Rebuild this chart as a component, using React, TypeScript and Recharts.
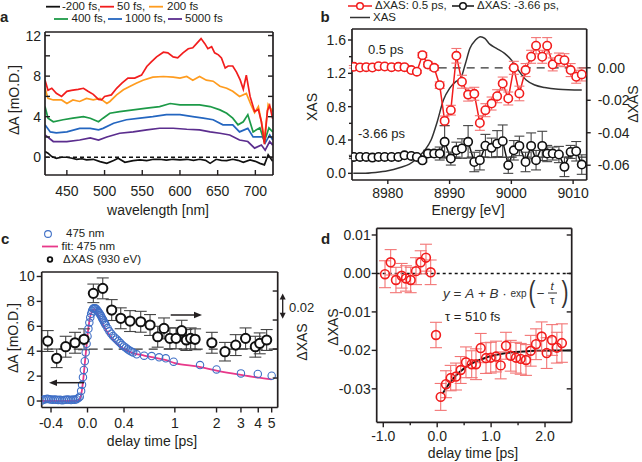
import React from 'react';
import { ComposedChart, Line, Scatter, XAxis, YAxis, ReferenceLine, ErrorBar } from 'recharts';

const FONT = '"Liberation Sans", Arial, Helvetica, sans-serif';
const INK = '#231f20';

// ---------------- panel a : transient absorption spectra ----------------
const A_M200 = [[421,0.56],[425,0.4],[430,0.07],[436,-0.1],[443,0.0],[450,0.0],[457,-0.1],[463,-0.2],[470,-0.15],[476,-0.26],[485,-0.2],[494,-0.43],[503,-0.6],[512,-0.33],[518,-0.1],[527,-0.5],[538,-0.33],[547,-0.25],[556,-0.33],[565,-0.2],[573,-0.2],[582,-0.28],[591,-0.2],[600,-0.25],[609,-0.2],[618,-0.3],[626,-0.2],[634,-0.3],[640,-0.6],[648,-0.2],[655,-0.3],[662,-0.33],[670,-0.2],[677,-0.3],[684,-0.5],[693,-0.26],[700,-0.4],[706,-0.6],[712,-0.75],[717,0.25],[723,-0.4]];
const A_50 = [[421,7.6],[425,6.6],[430,6.8],[436,6.3],[443,6.0],[450,6.5],[456,6.6],[465,6.7],[472,6.8],[478,6.5],[485,6.2],[492,5.7],[496,5.65],[500,6.0],[509,6.15],[516,6.8],[523,7.3],[531,7.8],[540,7.8],[549,8.1],[556,8.95],[562,9.4],[569,9.9],[578,10.36],[584,10.3],[591,9.9],[597,9.8],[604,10.3],[611,10.7],[617,10.8],[622,11.2],[628,11.7],[633,11.2],[637,10.7],[642,10.9],[646,10.3],[651,10.1],[655,9.8],[660,8.8],[664,9.0],[670,9.0],[675,8.4],[680,7.6],[684,6.7],[688,8.1],[693,6.0],[699,4.5],[704,4.7],[708,3.5],[712,1.3],[716,4.6],[719,5.1],[723,3.8]];
const A_200 = [[421,6.8],[425,5.8],[432,5.65],[443,5.65],[450,5.3],[458,5.65],[467,5.5],[476,5.8],[485,5.65],[494,5.8],[503,5.3],[507,5.5],[516,6.15],[525,6.65],[534,7.0],[542,7.3],[551,7.6],[564,7.9],[578,7.96],[591,7.9],[600,7.8],[609,7.96],[617,7.6],[626,7.96],[635,7.6],[644,7.5],[653,7.0],[662,6.8],[670,6.5],[679,6.0],[688,6.3],[694,5.2],[699,4.4],[704,5.0],[708,3.5],[712,1.8],[717,5.2],[723,4.5]];
const A_400 = [[421,5.0],[425,3.85],[432,3.5],[445,3.7],[458,3.85],[472,4.0],[481,3.85],[492,3.5],[498,3.85],[507,4.34],[520,4.5],[538,4.67],[556,4.84],[573,5.0],[587,5.3],[600,5.16],[613,5.16],[626,5.16],[640,5.0],[653,4.67],[662,4.34],[670,3.85],[677,3.2],[684,3.5],[690,4.2],[697,2.5],[706,2.9],[712,1.55],[718,2.9],[723,2.5]];
const A_1000 = [[421,3.2],[428,2.5],[436,2.4],[450,2.5],[467,2.85],[481,2.85],[492,2.7],[498,2.85],[512,3.35],[529,3.7],[547,3.85],[564,4.0],[582,4.2],[600,4.2],[617,4.0],[631,3.85],[644,3.7],[657,3.2],[670,3.2],[679,2.5],[690,2.85],[697,2.0],[710,2.0],[713,1.4],[719,2.2],[723,1.7]];
const A_5000 = [[421,2.2],[432,1.55],[450,1.55],[467,1.7],[481,1.9],[492,1.7],[503,2.0],[520,2.37],[538,2.5],[556,2.7],[573,2.86],[591,2.86],[609,2.76],[626,2.7],[640,2.5],[653,2.37],[666,2.2],[679,1.7],[690,1.55],[699,0.9],[708,1.2],[713,0.7],[719,1.55],[723,1.2]];
const A_XTICKS = [450, 500, 550, 600, 650, 700];
const A_YTICKS = [0, 2, 4, 6, 8, 10, 12];
const A_YLABELS = [0, 4, 8, 12];

// ---------------- panel b : XAS and dXAS spectra ----------------
const B_E = [8974.5,8975.5,8976.5,8977.5,8978.5,8979.5,8980.6,8981.7,8982.7,8983.8,8984.7,8985.6,8986.5,8987.5,8988.4,8989.2,8990.2,8991.1,8992.0,8993.0,8994.0,8994.9,8995.8,8996.8,8997.7,8998.6,8999.5,9000.4,9001.3,9002.3,9003.2,9004.0,9005.0,9005.8,9006.7,9007.7,9008.6,9009.6,9010.5,9011.4];
const B_RED = [0.0006,0.0002,0.0004,0.0002,0.0010,0.0008,0.0004,0.0006,0.0004,-0.0014,-0.0024,0.0078,0.0021,0.0000,-0.0107,-0.0327,-0.0261,0.0074,-0.0086,-0.0165,-0.0160,-0.0340,-0.0261,-0.0220,-0.0175,-0.0097,-0.0189,0.0000,-0.0158,-0.0014,0.0068,0.0136,0.0068,0.0136,0.0021,0.0051,0.0047,-0.0014,-0.0055,-0.0041];
const B_RED_ERR = [0.0008,0.0008,0.0008,0.0008,0.0008,0.0008,0.0008,0.0008,0.0008,0.0008,0.0008,0.0015,0.0015,0.0015,0.0020,0.0030,0.0030,0.0045,0.0040,0.0040,0.0040,0.0045,0.0040,0.0040,0.0040,0.0040,0.0040,0.0040,0.0045,0.0040,0.0040,0.0050,0.0040,0.0050,0.0040,0.0040,0.0040,0.0040,0.0040,0.0040];
const B_BLACK = [-0.0549,-0.0549,-0.0549,-0.0553,-0.0549,-0.0549,-0.0549,-0.0549,-0.0539,-0.0543,-0.0549,-0.0570,-0.0528,-0.0528,-0.0528,-0.0456,-0.0559,-0.0508,-0.0497,-0.0456,-0.0580,-0.0569,-0.0480,-0.0493,-0.0467,-0.0452,-0.0600,-0.0508,-0.0481,-0.0580,-0.0481,-0.0569,-0.0481,-0.0528,-0.0528,-0.0534,-0.0610,-0.0518,-0.0514,-0.0596];
const B_BLACK_ERR = [0.001,0.001,0.001,0.001,0.001,0.001,0.001,0.001,0.001,0.001,0.001,0.001,0.002,0.002,0.004,0.010,0.004,0.005,0.006,0.010,0.006,0.006,0.007,0.006,0.008,0.010,0.005,0.006,0.006,0.006,0.008,0.006,0.009,0.005,0.004,0.005,0.006,0.004,0.006,0.006];
const B_XAS_E = [8974.4,8976,8978,8980,8982,8983.5,8985,8986,8987,8988,8989,8990,8991,8991.8,8992.5,8993.3,8994.2,8995.0,8995.7,8996.5,8997.6,8998.9,9000,9001.1,9002.4,9003.8,9005.4,9007.6,9011.4];
const B_XAS = [0.0,0.0,0.01,0.03,0.07,0.11,0.2,0.28,0.4,0.62,0.88,1.02,1.1,1.14,1.3,1.5,1.6,1.64,1.62,1.55,1.5,1.44,1.36,1.24,1.12,1.06,1.03,1.01,1.0];
const B_XTICKS = [8980, 8990, 9000, 9010];
const B_LTICKS = [0, 0.2, 0.4, 0.6, 0.8, 1.0, 1.2, 1.4, 1.6];
const B_LMINOR = [0.2, 0.6, 1.0, 1.4];
const B_RTICKS = [-0.06, -0.04, -0.02, 0];
const B_BLACK_BASE = -0.055;

// ---------------- panel c : kinetics ----------------
const C_BREAK = 0.5;   // axis is linear below this delay, logarithmic above
const C_DECADE = 1.518; // axis units per decade on the logarithmic part
const U = (t: number) => (t <= C_BREAK ? t : C_BREAK + C_DECADE * Math.log10(t / C_BREAK));
const C_BLUE = [[-0.5,0.05],[-0.48,0.12],[-0.46,0.15],[-0.44,0.18],[-0.42,0.15],[-0.4,0.12],[-0.38,0.1],[-0.36,0.12],[-0.34,0.1],[-0.32,0.08],[-0.3,0.1],[-0.28,0.06],[-0.26,0.08],[-0.24,0.1],[-0.22,0.12],[-0.2,0.1],[-0.18,0.08],[-0.16,0.12],[-0.14,0.1],[-0.12,0.15],[-0.1,0.25],[-0.085,0.35],[-0.07,0.8],[-0.06,1.3],[-0.05,1.9],[-0.04,2.5],[-0.03,3.2],[-0.02,3.9],[-0.01,4.6],[0.0,5.2],[0.01,5.8],[0.02,6.3],[0.03,6.7],[0.04,7.0],[0.05,7.25],[0.06,7.4],[0.07,7.45],[0.08,7.45],[0.09,7.42],[0.1,7.35],[0.11,7.25],[0.12,7.15],[0.13,7.05],[0.14,6.92],[0.15,6.8],[0.16,6.65],[0.17,6.52],[0.18,6.38],[0.19,6.24],[0.2,6.1],[0.22,5.85],[0.24,5.6],[0.26,5.4],[0.28,5.22],[0.3,5.08],[0.32,4.95],[0.34,4.8],[0.36,4.65],[0.38,4.5],[0.4,4.38],[0.42,4.28],[0.44,4.15],[0.46,4.05],[0.48,3.97],[0.5,3.9],[0.53,3.75],[0.6,3.64],[0.68,3.61],[0.77,3.51],[0.86,3.43],[0.98,3.16],[1.52,2.89],[2.0,2.54],[3.0,2.22],[3.97,2.17],[5.0,2.03]];
const C_FIT = [[-0.5,0.0],[-0.12,0.0],[-0.09,0.1],[-0.07,0.5],[-0.05,1.5],[-0.03,3.0],[-0.01,4.5],[0.01,5.9],[0.03,6.8],[0.05,7.2],[0.07,7.35],[0.09,7.25],[0.11,6.95],[0.14,6.5],[0.18,6.0],[0.22,5.5],[0.27,5.0],[0.32,4.6],[0.38,4.25],[0.45,4.0],[0.5,3.85],[0.6,3.65],[0.7,3.5],[0.85,3.3],[1.0,3.05],[1.5,2.75],[2.0,2.45],[3.0,2.1],[4.0,1.88],[5.0,1.74]];
const C_XAS_T = [-0.436,-0.338,-0.239,-0.137,-0.038,0.064,0.167,0.265,0.364,0.466,0.567,0.662,0.752,0.835,0.921,1.02,1.12,1.21,1.30,1.40,1.85,2.30,2.75,3.24,3.81,4.1,4.6];
const C_XAS = [0.0069,-0.008,0.002,0.0054,0.0084,0.048,0.0523,0.0336,0.0265,0.0241,0.0235,0.0207,0.0106,0.0178,0.0092,0.0092,0.0158,0.0078,0.0092,0.0084,0.0054,-0.0023,0.0034,0.0092,0.002,0.0049,0.0078];
const C_XAS_ERR = [0.009,0.008,0.009,0.009,0.009,0.008,0.009,0.009,0.009,0.009,0.009,0.009,0.009,0.009,0.009,0.009,0.009,0.009,0.009,0.009,0.009,0.008,0.009,0.009,0.009,0.009,0.009];
const C_TICK_T = [-0.4, 0, 0.4, 1, 2, 3, 4, 5];
const C_TICK_LBL = ['-0.4', '0.0', '0.4', '1', '2', '3', '4', '5'];
const C_YTICKS = [0, 2, 4, 6, 8, 10];
const C_RTICKS = [-0.025, 0, 0.025, 0.05];

// ---------------- panel d : dXAS kinetics with fit ----------------
const D_T = [-0.968,-0.863,-0.765,-0.659,-0.579,-0.492,-0.393,-0.306,-0.208,-0.121,-0.022,0.065,0.163,0.25,0.349,0.436,0.534,0.64,0.72,0.807,0.906,0.993,1.091,1.178,1.276,1.364,1.462,1.549,1.647,1.735,1.833,1.938,2.031,2.13,2.22,2.313];
const D_V = [-0.0002,0.0029,-0.0017,-0.0006,-0.0013,-0.0017,0.0006,0.0029,0.0041,0.0003,-0.016,-0.0321,-0.0288,-0.0272,-0.0268,-0.0251,-0.0231,-0.0236,-0.0236,-0.0194,-0.022,-0.0219,-0.0216,-0.0239,-0.0188,-0.0214,-0.0219,-0.0222,-0.0225,-0.0201,-0.0184,-0.0164,-0.0207,-0.0173,-0.0193,-0.0181];
const D_ERR = [0.0035,0.0033,0.0033,0.0032,0.0033,0.0033,0.0035,0.003,0.0035,0.0032,0.0033,0.0035,0.0035,0.0033,0.0035,0.0035,0.004,0.0035,0.004,0.0038,0.004,0.004,0.004,0.0035,0.0035,0.004,0.004,0.004,0.004,0.004,0.004,0.0038,0.004,0.004,0.004,0.005];
const D_FIT = [[0.1,-0.0313],[0.15,-0.0301],[0.2,-0.0291],[0.3,-0.0273],[0.4,-0.0258],[0.5,-0.0247],[0.6,-0.0237],[0.7,-0.023],[0.8,-0.0224],[0.9,-0.0219],[1.0,-0.0215],[1.2,-0.0209],[1.4,-0.0205],[1.6,-0.0203],[1.8,-0.0201],[2.0,-0.0201],[2.2,-0.02],[2.5,-0.02]];
const D_XTICKS = [-1, -0.5, 0, 0.5, 1, 1.5, 2];
const D_XMINOR = [-0.5, 0.5, 1.5];
const D_YTICKS = [-0.03, -0.02, -0.01, 0, 0.01];

// ---------------- helpers ----------------
const xy = (a: number[][]) => a.map(([x, y]) => ({ x, y }));

type Side = 'left' | 'right' | 'top' | 'bottom';
type TickCfg = {
  side: Side; len: number; inward: boolean; labels?: boolean; fmt?: (v: number) => string;
  gap?: number; minors?: number[]; minorLen?: number; only?: number[]; fs?: number;
};
const near = (a: number, b: number) => Math.abs(a - b) < 1e-6;
const mkTick = (c: TickCfg) => (p: any) => {
  const x = p.x, y = p.y;
  const v = p.payload ? p.payload.value : 0;
  const minor = c.minors ? c.minors.some((m) => near(m, v)) : false;
  const L = minor ? (c.minorLen ?? c.len) : c.len;
  const s = c.inward ? 1 : -1;
  let x2 = x, y2 = y;
  if (c.side === 'left') x2 = x + s * L;
  else if (c.side === 'right') x2 = x - s * L;
  else if (c.side === 'bottom') y2 = y - s * L;
  else y2 = y + s * L;
  let show = !!c.labels && !minor;
  if (show && c.only) show = c.only.some((m) => near(m, v));
  const g = c.gap ?? 5;
  const st = { fill: INK, fontSize: c.fs ?? 14, fontFamily: FONT };
  let t: any = null;
  if (show) {
    const lbl = c.fmt ? c.fmt(v) : String(v);
    if (c.side === 'left') t = <text x={x - g} y={y} textAnchor="end" dominantBaseline="central" {...st}>{lbl}</text>;
    else if (c.side === 'right') t = <text x={x + g} y={y} textAnchor="start" dominantBaseline="central" {...st}>{lbl}</text>;
    else if (c.side === 'bottom') t = <text x={x} y={y + g} textAnchor="middle" dominantBaseline="central" {...st}>{lbl}</text>;
  }
  return (
    <g>
      <line x1={x} y1={y} x2={x2} y2={y2} stroke={INK} strokeWidth={1.4} />
      {t}
    </g>
  );
};

const AX = {
  type: 'number' as const, tickLine: false, tickSize: 0, tickMargin: 0, interval: 0 as const,
  allowDataOverflow: true, axisLine: { stroke: INK, strokeWidth: 1.7 },
};

const circ = (r: number, stroke: string, sw: number, fill = '#fff') => (p: any) =>
  <circle cx={p.cx} cy={p.cy} r={r} fill={fill} stroke={stroke} strokeWidth={sw} />;

function T(props: any) {
  const { x, y, children, size = 14, anchor = 'middle', rotate = 0, bold = false, italic = false } = props;
  const tx = anchor === 'middle' ? '-50%' : anchor === 'end' ? '-100%' : '0';
  return (
    <div style={{
      position: 'absolute', left: x, top: y, transform: `translate(${tx},-50%) rotate(${rotate}deg)`,
      fontFamily: FONT, fontSize: size, lineHeight: 1, whiteSpace: 'nowrap', color: INK,
      fontWeight: bold ? 700 : 400, fontStyle: italic ? 'italic' : 'normal',
    }}>{children}</div>
  );
}

// ---------------- panels ----------------
function PanelA() {
  const dom: [number, number] = [421, 723.4];
  const ydom: [number, number] = [-1.75, 12.35];
  const series: [number[][], string][] = [
    [A_5000, '#5b2d8e'], [A_1000, '#2466c0'], [A_400, '#1d9a48'], [A_200, '#ff9c1f'], [A_50, '#f21d1d'], [A_M200, '#111111'],
  ];
  return (
    <div style={{ position: 'absolute', left: 0, top: 0 }}>
      <ComposedChart width={320} height={230} margin={{ top: 31, right: 46, bottom: 0, left: 0 }}>
        <XAxis {...AX} xAxisId="b" dataKey="x" domain={dom} ticks={A_XTICKS} height={55}
          tick={mkTick({ side: 'bottom', len: 5, inward: true, labels: true, gap: 15.5 })} />
        <XAxis {...AX} xAxisId="t" orientation="top" domain={dom} ticks={A_XTICKS} height={1}
          tick={mkTick({ side: 'top', len: 5, inward: true })} />
        <YAxis {...AX} yAxisId="l" domain={ydom} ticks={A_YTICKS} width={45}
          tick={mkTick({ side: 'left', len: 5, inward: true, labels: true, only: A_YLABELS, gap: 4 })} />
        <YAxis {...AX} yAxisId="r" orientation="right" domain={ydom} ticks={A_YTICKS} width={1}
          tick={mkTick({ side: 'right', len: 5, inward: true })} />
        <ReferenceLine xAxisId="b" yAxisId="l" y={0} stroke="#111" strokeWidth={1.3} strokeDasharray="4 3" />
        {series.map(([d, col], i) => (
          <Line key={i} data={xy(d)} dataKey="y" xAxisId="b" yAxisId="l" stroke={col} strokeWidth={1.7}
            dot={false} isAnimationActive={false} type="linear" />
        ))}
      </ComposedChart>
    </div>
  );
}

function PanelB() {
  const dom: [number, number] = [8974.2, 9012.2];
  const ldom: [number, number] = [-0.08, 1.732];
  const rdom: [number, number] = [-0.0691, 0.0239];
  const red = B_E.map((e, i) => ({ x: e, y: B_RED[i], err: B_RED_ERR[i] }));
  const blk = B_E.map((e, i) => ({ x: e, y: B_BLACK[i], err: B_BLACK_ERR[i] }));
  const xas = B_XAS_E.map((e, i) => ({ x: e, y: B_XAS[i] }));
  return (
    <div style={{ position: 'absolute', left: 320, top: 0 }}>
      <ComposedChart width={322} height={220} margin={{ top: 28, right: 54.3, bottom: 0, left: 0 }}>
        <XAxis {...AX} xAxisId="b" dataKey="x" domain={dom} ticks={B_XTICKS} height={40}
          tick={mkTick({ side: 'bottom', len: 4, inward: false, labels: true, gap: 13 })} />
        <XAxis {...AX} xAxisId="t" orientation="top" domain={dom} ticks={[]} height={1} tick={false} />
        <YAxis {...AX} yAxisId="l" domain={ldom} ticks={B_LTICKS} width={32}
          tick={mkTick({ side: 'left', len: 4, inward: false, labels: true, minors: B_LMINOR, minorLen: 3, gap: 6, fmt: (v) => v.toFixed(1) })} />
        <YAxis {...AX} yAxisId="r" orientation="right" domain={rdom} ticks={B_RTICKS} width={1}
          tick={mkTick({ side: 'right', len: 4, inward: false, labels: true, gap: 11, fmt: (v) => v.toFixed(2) })} />
        <ReferenceLine xAxisId="b" yAxisId="r" y={0} stroke="#333" strokeWidth={1.2} strokeDasharray="8 6" />
        <ReferenceLine xAxisId="b" yAxisId="r" y={B_BLACK_BASE} stroke="#333" strokeWidth={1.2} strokeDasharray="8 6" />
        <Line data={xas} dataKey="y" xAxisId="b" yAxisId="l" stroke="#333" strokeWidth={1.5} dot={false}
          isAnimationActive={false} type="monotone" />
        <Line data={red} dataKey="y" xAxisId="b" yAxisId="r" stroke="#f21d1d" strokeWidth={1.5} dot={false}
          isAnimationActive={false} type="linear" />
        <Line data={blk} dataKey="y" xAxisId="b" yAxisId="r" stroke="#111" strokeWidth={1.5} dot={false}
          isAnimationActive={false} type="linear" />
        <Scatter data={red} dataKey="y" xAxisId="b" yAxisId="r" isAnimationActive={false} shape={circ(4.2, '#f21d1d', 1.6)}>
          <ErrorBar dataKey="err" direction="y" width={5} stroke="#f37575" strokeWidth={1.1} />
        </Scatter>
        <Scatter data={blk} dataKey="y" xAxisId="b" yAxisId="r" isAnimationActive={false} shape={circ(4.2, '#111', 1.6)}>
          <ErrorBar dataKey="err" direction="y" width={5} stroke="#444" strokeWidth={1.1} />
        </Scatter>
      </ComposedChart>
    </div>
  );
}

function PanelC() {
  const dom: [number, number] = [-0.502, 2.084];
  const ldom: [number, number] = [-0.52, 10.36];
  const rdom: [number, number] = [-0.0504, 0.0664];
  const blue = C_BLUE.map(([t, v]) => ({ x: U(t), y: v }));
  const fit = C_FIT.map(([t, v]) => ({ x: U(t), y: v }));
  const blk = C_XAS_T.map((t, i) => ({ x: U(t), y: C_XAS[i], err: C_XAS_ERR[i] }));
  const tickU = C_TICK_T.map(U);
  const fmt = (u: number) => {
    const i = tickU.findIndex((w) => near(w, u));
    return i >= 0 ? C_TICK_LBL[i] : '';
  };
  return (
    <div style={{ position: 'absolute', left: 0, top: 230 }}>
      <ComposedChart width={320} height={232} margin={{ top: 41, right: 41.3, bottom: 0, left: 0 }}>
        <XAxis {...AX} xAxisId="b" dataKey="x" domain={dom} ticks={tickU} height={54.5}
          tick={mkTick({ side: 'bottom', len: 5, inward: false, labels: true, gap: 15, fmt })} />
        <XAxis {...AX} xAxisId="t" orientation="top" domain={dom} ticks={[]} height={1} tick={false} />
        <YAxis {...AX} yAxisId="l" domain={ldom} ticks={C_YTICKS} width={41.7}
          tick={mkTick({ side: 'left', len: 5, inward: false, labels: true, gap: 7 })} />
        <YAxis {...AX} yAxisId="r" orientation="right" domain={rdom} ticks={C_RTICKS} width={1}
          tick={mkTick({ side: 'right', len: 5, inward: true })} />
        <ReferenceLine xAxisId="b" yAxisId="r" y={0} stroke="#333" strokeWidth={1.2} strokeDasharray="9 6" />
        <Scatter data={blue} dataKey="y" xAxisId="b" yAxisId="l" isAnimationActive={false}
          shape={circ(3.7, '#3f6fc6', 1.1, 'none')} />
        <Line data={fit} dataKey="y" xAxisId="b" yAxisId="l" stroke="#e8388a" strokeWidth={1.8} dot={false}
          isAnimationActive={false} type="monotone" />
        <Scatter data={blk} dataKey="y" xAxisId="b" yAxisId="r" isAnimationActive={false} shape={circ(4.6, '#111', 2)}>
          <ErrorBar dataKey="err" direction="y" width={6} stroke="#444" strokeWidth={1.1} />
        </Scatter>
      </ComposedChart>
    </div>
  );
}

function PanelD() {
  const dom: [number, number] = [-1.122, 2.495];
  const ydom: [number, number] = [-0.0387, 0.01174];
  const pts = D_T.map((t, i) => ({ x: t, y: D_V[i], err: D_ERR[i] }));
  return (
    <div style={{ position: 'absolute', left: 320, top: 220 }}>
      <ComposedChart width={322} height={242} margin={{ top: 7.3, right: 69.3, bottom: 0, left: 0 }}>
        <XAxis {...AX} xAxisId="b" dataKey="x" domain={dom} ticks={D_XTICKS} height={39.7}
          tick={mkTick({ side: 'bottom', len: 5, inward: false, labels: true, gap: 14, minors: D_XMINOR, minorLen: 3, fmt: (v) => v.toFixed(1) })} />
        <XAxis {...AX} xAxisId="t" orientation="top" domain={dom} ticks={D_XTICKS} height={1}
          tick={mkTick({ side: 'top', len: 5, inward: true })} />
        <YAxis {...AX} yAxisId="l" domain={ydom} ticks={D_YTICKS} width={56.7}
          tick={mkTick({ side: 'left', len: 5, inward: false, labels: true, gap: 6, fmt: (v) => v.toFixed(2) })} />
        <YAxis {...AX} yAxisId="r" orientation="right" domain={ydom} ticks={D_YTICKS} width={1}
          tick={mkTick({ side: 'right', len: 5, inward: true })} />
        <ReferenceLine xAxisId="b" yAxisId="l" y={0} stroke="#111" strokeWidth={1.6} strokeDasharray="3 3" />
        <Line data={xy(D_FIT)} dataKey="y" xAxisId="b" yAxisId="l" stroke="#111" strokeWidth={2} dot={false}
          isAnimationActive={false} type="monotone" />
        <Scatter data={pts} dataKey="y" xAxisId="b" yAxisId="l" isAnimationActive={false} shape={circ(4.4, '#f21d1d', 1.6, 'none')}>
          <ErrorBar dataKey="err" direction="y" width={6} stroke="#f37575" strokeWidth={1.1} />
        </Scatter>
      </ComposedChart>
    </div>
  );
}

// ---------------- legends, labels, arrows ----------------
function Overlay() {
  const seg = (x1: number, x2: number, y: number, c: string, w = 1.8) =>
    <line x1={x1} x2={x2} y1={y} y2={y} stroke={c} strokeWidth={w} />;
  return (
    <svg width={642} height={462} style={{ position: 'absolute', left: 0, top: 0, pointerEvents: 'none' }}>
      {seg(46, 60, 6.7, '#111')}{seg(100, 114, 6.7, '#f21d1d')}{seg(149, 163, 6.7, '#ff9c1f')}
      {seg(54, 68, 19, '#1d9a48')}{seg(108, 122, 19, '#2466c0')}{seg(168, 182, 19, '#5b2d8e')}
      {seg(348, 372, 6, '#f21d1d', 1.5)}<circle cx={360} cy={6} r={3.3} fill="#fff" stroke="#f21d1d" strokeWidth={1.5} />
      {seg(452, 474, 6, '#111', 1.5)}<circle cx={463} cy={6} r={3.3} fill="#fff" stroke="#111" strokeWidth={1.5} />
      {seg(350, 370, 17.5, '#333', 1.5)}
      <circle cx={48} cy={234} r={3.4} fill="none" stroke="#3f6fc6" strokeWidth={1.1} />
      {seg(42, 58, 246.5, '#e8388a', 1.8)}
      <circle cx={50} cy={259.5} r={2.3} fill="#fff" stroke="#111" strokeWidth={1.8} />
      {/* arrows in c */}
      <line x1={84} y1={382.7} x2={55} y2={382.7} stroke={INK} strokeWidth={1.5} />
      <path d="M49 382.7 L57 379.5 L57 385.9 Z" fill={INK} />
      <line x1={170.7} y1={315} x2={196} y2={315} stroke={INK} strokeWidth={1.5} />
      <path d="M202 315 L194 311.8 L194 318.2 Z" fill={INK} />
      <line x1={282.7} y1={298} x2={282.7} y2={314} stroke={INK} strokeWidth={1.3} />
      <path d="M282.7 293.5 L279.7 299.5 L285.7 299.5 Z" fill={INK} />
      <path d="M282.7 318.8 L279.7 312.8 L285.7 312.8 Z" fill={INK} />
    </svg>
  );
}

function Texts() {
  return (
    <>
      <T x={0} y={16} size={15} bold anchor="start">a</T>
      <T x={320.5} y={16} size={15} bold anchor="start">b</T>
      <T x={1} y={238} size={15} bold anchor="start">c</T>
      <T x={321} y={238} size={15} bold anchor="start">d</T>

      <T x={62} y={6.7} size={11.5} anchor="start">-200 fs,</T>
      <T x={117} y={6.7} size={11.5} anchor="start">50 fs,</T>
      <T x={167} y={6.7} size={11.5} anchor="start">200 fs</T>
      <T x={71.5} y={19} size={11.5} anchor="start">400 fs,</T>
      <T x={125} y={19} size={11.5} anchor="start">1000 fs,</T>
      <T x={185} y={19} size={11.5} anchor="start">5000 fs</T>
      <T x={14} y={100} size={14} rotate={-90}>ΔA [mO.D.]</T>
      <T x={158} y={210} size={14}>wavelength [nm]</T>

      <T x={375} y={6} size={11.5} anchor="start">ΔXAS: 0.5 ps,</T>
      <T x={477} y={6} size={11.5} anchor="start">ΔXAS: -3.66 ps,</T>
      <T x={373} y={17.5} size={11.5} anchor="start">XAS</T>
      <T x={368} y={49} size={13} anchor="start">0.5 ps</T>
      <T x={358} y={133} size={13} anchor="start">-3.66 ps</T>
      <T x={312} y={107} size={14} rotate={-90}>XAS</T>
      <T x={633} y={104} size={14} rotate={-90}>ΔXAS</T>
      <T x={468} y={210} size={14}>Energy [eV]</T>

      <T x={66} y={234} size={11.5} anchor="start">475 nm</T>
      <T x={61.5} y={246.5} size={11.5} anchor="start">fit: 475 nm</T>
      <T x={63} y={259.5} size={11.5} anchor="start">ΔXAS (930 eV)</T>
      <T x={289} y={307} size={13} anchor="start">0.02</T>
      <T x={302} y={342} size={14} rotate={-90}>ΔXAS</T>
      <T x={13} y={338} size={14} rotate={-90}>ΔA [mO.D.]</T>
      <T x={152} y={441} size={14}>delay time [ps]</T>

      <T x={333} y={327} size={14} rotate={-90}>ΔXAS</T>
      <T x={473} y={453} size={14}>delay time [ps]</T>
      <div style={{ position: 'absolute', left: 443, top: 293, transform: 'translateY(-50%)', display: 'flex', alignItems: 'center', fontFamily: FONT, fontSize: 13.5, color: '#333', whiteSpace: 'nowrap', lineHeight: 1 }}>
        <i>y</i><span>&nbsp;=&nbsp;</span><i>A</i><span>&nbsp;+&nbsp;</span><i>B</i><span>&nbsp;·&nbsp;</span>
        <span style={{ fontSize: 10 }}>exp</span>
        <span style={{ fontSize: 30, fontWeight: 300, display: 'inline-block', transform: 'scaleX(0.7)', marginTop: -3 }}>(</span>
        <span>−</span>
        <span style={{ display: 'inline-flex', flexDirection: 'column', alignItems: 'center', fontSize: 11.5, margin: '0 3px' }}>
          <i style={{ borderBottom: '1px solid #333', padding: '0 3px 1px' }}>t</i>
          <span style={{ paddingTop: 1 }}>τ</span>
        </span>
        <span style={{ fontSize: 30, fontWeight: 300, display: 'inline-block', transform: 'scaleX(0.7)', marginTop: -3 }}>)</span>
      </div>
      <T x={445} y={316} size={13} anchor="start">τ = 510 fs</T>
    </>
  );
}

export default function App() {
  return (
    <div style={{ position: 'absolute', left: 0, top: 0, width: 642, height: 462, background: '#fff', overflow: 'hidden' }}>
      <PanelA />
      <PanelB />
      <PanelC />
      <PanelD />
      <Overlay />
      <Texts />
    </div>
  );
}
